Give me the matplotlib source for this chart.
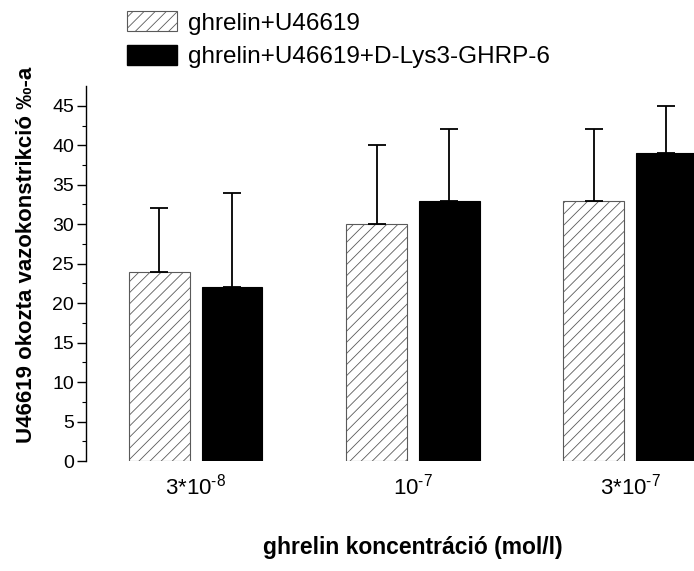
import numpy as np
import matplotlib
matplotlib.use('Agg')
import matplotlib.pyplot as plt
from matplotlib.patches import Patch

plt.rcParams['font.family'] = ['Liberation Sans', 'DejaVu Sans']
plt.rcParams['mathtext.fontset'] = 'custom'
plt.rcParams['mathtext.rm'] = 'Liberation Sans'
plt.rcParams['mathtext.it'] = 'Liberation Sans:italic'
plt.rcParams['hatch.linewidth'] = 0.6

# data
concentrations = ['3*10$^{\u20108}$', '10$^{\u20107}$', '3*10$^{\u20107}$']
seriesNames = ['ghrelin+U46619', 'ghrelin+U46619+D-Lys3-GHRP-6']
ghrelinU = [24, 30, 33]
ghrelinUErr = [8, 10, 9]
ghrelinUD = [22, 33, 39]
ghrelinUDErr = [12, 9, 6]

fig = plt.figure(figsize=(6.94, 5.71), dpi=100)
ax = fig.add_axes([0.1239, 0.1926, 0.8761, 0.6567])

x = np.arange(len(concentrations))
w = 0.28
off = 0.167

ax.bar(x - off, ghrelinU, w, color='white', edgecolor='#5a5a5a', hatch='///',
       linewidth=0.8, zorder=2)
ax.errorbar(x - off, ghrelinU, yerr=[np.zeros(3), ghrelinUErr], fmt='none',
            ecolor='black', elinewidth=1.3, capsize=6.5, capthick=1.3, zorder=3)
ax.bar(x + off, ghrelinUD, w, color='black', edgecolor='black', linewidth=0.8,
       zorder=2)
ax.errorbar(x + off, ghrelinUD, yerr=[np.zeros(3), ghrelinUDErr], fmt='none',
            ecolor='black', elinewidth=1.3, capsize=6.5, capthick=1.3, zorder=3)

ax.set_xlim(-0.505, 2.294)
ax.set_ylim(0, 47.5)
ax.set_yticks(np.arange(0, 46, 5))
ax.set_yticks(np.arange(2.5, 47.5, 5), minor=True)
ax.set_xticks(x)
ax.set_xticklabels(concentrations, fontsize=16)

for s in ['top', 'right', 'bottom']:
    ax.spines[s].set_visible(False)
ax.spines['left'].set_linewidth(1.0)
ax.tick_params(axis='y', which='major', direction='out', length=6.5, width=1.0,
               labelsize=14, pad=2)
ax.tick_params(axis='y', which='minor', direction='out', length=3, width=0.8)
ax.tick_params(axis='x', length=0, pad=9)

ax.set_ylabel('U46619 okozta vazokonstrikció ‰-a', fontsize=16, fontweight='bold')
ax.yaxis.set_label_coords(-0.08, 0.549)
ax.set_xlabel('ghrelin koncentráció (mol/l)', fontsize=16.5, fontweight='bold')
ax.xaxis.set_label_coords(0.538, -0.2)

handles = [Patch(facecolor='white', edgecolor='#5a5a5a', hatch='///', linewidth=0.8),
           Patch(facecolor='black', edgecolor='black')]
fig.legend(handles, seriesNames, loc='upper left',
           bbox_to_anchor=(127 / 694, 1 - 11 / 571), frameon=False, fontsize=17.5,
           handlelength=2.05, handleheight=0.92, handletextpad=0.48,
           labelspacing=0.42, borderpad=0, borderaxespad=0)

fig.savefig('out.png', dpi=100)
